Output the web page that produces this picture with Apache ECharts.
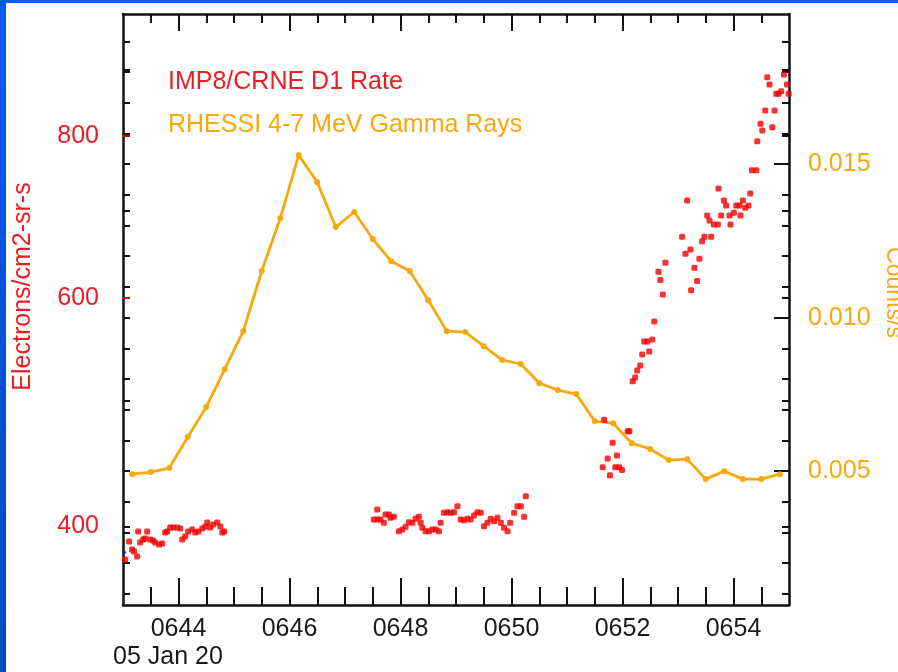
<!DOCTYPE html>
<html><head><meta charset="utf-8">
<script src="https://cdn.jsdelivr.net/npm/echarts@6/dist/echarts.min.js"></script>
<style>
html,body{margin:0;padding:0;background:#fff;}
#wrap{position:relative;width:898px;height:672px;overflow:hidden;background:#fff;}
#bandTop{position:absolute;left:0;top:0;width:898px;height:3px;background:#0a5cf0;}
#bandLeft{position:absolute;left:0;top:0;width:6px;height:672px;background:linear-gradient(#0a5cf0,#0046c8);}
#chart{position:absolute;left:0;top:0;width:898px;height:672px;}
</style></head>
<body><div id="wrap"><div id="bandTop"></div><div id="bandLeft"></div><div id="chart"></div></div>
<script>
const FONT = '"Liberation Sans", Arial, Helvetica, sans-serif';
const RED = '#ec1c24';
const DOT_RED = '#f20000';
const ORANGE = '#f7a80e';
const INK = '#111111';

// ---- axis ticks / labels ----
const xMajorTicks = [44, 46, 48, 50, 52, 54];
const xTickLabels = ['0644', '0646', '0648', '0650', '0652', '0654'];
const xMinorTicks = [43.5, 44.5, 45, 45.5, 46.5, 47, 47.5, 48.5, 49, 49.5, 50.5, 51, 51.5, 52.5, 53, 53.5, 54.5];
const dateLabel = '05 Jan 20';
const leftTickLabels = [400, 600, 800];
const leftBlackTicks = [400, 500, 700, 900];
const leftRedTicks = [600, 800];
const rightTickLabels = [0.005, 0.010, 0.015];
const rightMinorTicks = [0.001, 0.002, 0.003, 0.004, 0.006, 0.007, 0.008, 0.009, 0.011, 0.012, 0.013, 0.014, 0.016, 0.017, 0.018, 0.019];

// ---- RHESSI 4-7 MeV gamma rays (counts/s) ----
const gammaTimes = ['06:43:10','06:43:30','06:43:50','06:44:10','06:44:30','06:44:50','06:45:10','06:45:30','06:45:50',
  '06:46:10','06:46:30','06:46:50','06:47:10','06:47:30','06:47:50','06:48:10','06:48:30','06:48:50',
  '06:49:10','06:49:30','06:49:50','06:50:10','06:50:30','06:50:50','06:51:10','06:51:30','06:51:50',
  '06:52:10','06:52:30','06:52:50','06:53:10','06:53:30','06:53:50','06:54:10','06:54:30','06:54:50'];
const gammaRate = [0.00490,0.00497,0.00510,0.00611,0.00709,0.00832,0.00956,0.01152,0.01324,
  0.01529,0.01441,0.01295,0.01344,0.01256,0.01184,0.01152,0.01057,0.00956,
  0.00953,0.00907,0.00862,0.00849,0.00787,0.00764,0.00751,0.00663,0.00656,
  0.00591,0.00572,0.00536,0.00539,0.00474,0.00500,0.00474,0.00474,0.00490];

// ---- IMP8/CRNE D1 rate (electrons/cm2-sr-s); time in minutes after 06:00 ----
const imp8Minutes = [
  43.038,43.110,43.164,43.200,43.255,43.273,43.309,43.363,43.399,43.435,43.489,43.543,43.579,43.652,43.706,43.760,43.796,43.850,
  43.904,43.976,44.031,44.067,44.121,44.175,44.247,44.301,44.356,44.428,44.482,44.518,44.572,44.626,44.699,44.753,44.789,44.825,
  47.520,47.581,47.585,47.641,47.700,47.731,47.791,47.821,47.881,47.971,48.033,48.092,48.152,48.213,48.273,48.332,48.363,48.393,
  48.453,48.513,48.574,48.634,48.693,48.724,48.783,48.845,48.904,48.964,49.025,49.085,49.144,49.206,49.265,49.325,49.386,49.446,
  49.505,49.567,49.626,49.686,49.747,49.807,49.866,49.928,49.975,50.047,50.108,50.168,50.227,50.258,
  51.643,51.671,51.733,51.774,51.823,51.870,51.901,51.942,51.991,52.094,52.123,52.184,52.229,52.265,52.319,52.355,52.392,52.446,
  52.482,52.536,52.572,52.646,52.682,52.726,52.773,53.074,53.134,53.164,53.224,53.236,53.296,53.345,53.386,53.435,53.477,53.525,
  53.567,53.597,53.646,53.718,53.729,53.778,53.827,53.868,53.928,53.946,54.007,54.049,54.108,54.126,54.170,54.211,54.271,54.301,
  54.332,54.410,54.428,54.487,54.518,54.572,54.608,54.650,54.699,54.740,54.771,54.812,54.860,54.909,54.964,54.995];
const imp8Rate = [
  377.2,389.5,384.0,382.6,379.3,396.5,388.8,390.9,391.6,396.5,390.9,390.2,388.8,387.4,388.1,395.7,396.5,399.3,
  399.3,399.3,398.6,390.9,392.9,396.5,397.9,395.7,396.5,398.6,400.0,402.9,399.3,401.4,402.9,400.0,395.7,396.5,
  405.0,412.2,405.0,405.0,402.6,408.6,408.6,406.2,406.9,396.7,397.9,399.8,403.1,402.6,405.5,406.9,402.6,399.1,
  396.7,396.7,397.9,397.9,396.7,402.6,409.8,410.2,409.8,410.2,414.7,405.0,404.5,405.5,405.0,407.9,410.2,409.8,
  400.2,402.6,405.5,403.8,406.2,402.6,399.1,396.7,402.6,409.8,414.7,414.7,406.9,422.1,
  444.4,483.5,451.3,438.1,464.0,444.4,453.7,444.4,442.1,473.7,473.7,517.5,521.1,527.6,532.3,542.8,555.4,555.4,
  545.7,557.4,575.5,628.6,619.3,603.8,638.7,668.8,648.9,713.4,653.9,608.4,633.0,618.2,643.2,663.6,668.8,694.6,
  688.4,668.8,683.6,683.6,728.6,694.6,713.4,707.1,694.6,683.6,698.0,707.1,707.1,694.6,713.4,704.2,707.1,722.3,
  752.7,752.7,792.4,817.3,807.6,836.8,887.7,876.3,812.4,836.8,862.0,862.0,865.9,892.0,876.3,862.0];
const blueMinutes = [43.020];
const blueRate = [382.0];

const toMinutes = s => { const p = s.split(':').map(Number); return (p[0] - 6) * 60 + p[1] + p[2] / 60; };
const gammaData = gammaTimes.map((t, i) => [toMinutes(t), gammaRate[i]]);
const imp8Data = imp8Minutes.map((m, i) => [m, imp8Rate[i]]);
const blueData = blueMinutes.map((m, i) => [m, blueRate[i]]);

const X_MIN = 43, X_MAX = 55;
const L_MIN = 348, L_MAX = 993;
const R_MIN = 0.00064, R_MAX = 0.01989;
const FS = 25;

const hidden = { show: false };
function xAx(pos, ticks, len, showLine, labels) {
  return {
    type: 'value', position: pos, min: X_MIN, max: X_MAX,
    axisLine: { show: showLine, onZero: false, lineStyle: { color: INK, width: 2.5 } },
    axisTick: { show: true, inside: true, length: len, customValues: ticks, lineStyle: { color: INK, width: 2 } },
    axisLabel: labels ? {
      show: true, customValues: xMajorTicks, margin: 12,
      formatter: v => xTickLabels[xMajorTicks.indexOf(v)] || '',
      color: '#1a1a1a', fontSize: FS, fontFamily: FONT
    } : hidden,
    splitLine: hidden
  };
}
function logAx(pos, ticks, color, showLine, extra) {
  return Object.assign({
    type: 'log', logBase: 10, position: pos, min: L_MIN, max: L_MAX,
    axisLine: { show: showLine, onZero: false, lineStyle: { color: INK, width: 2.5 } },
    axisTick: { show: true, inside: true, length: 7, customValues: ticks, lineStyle: { color: color, width: 2 } },
    axisLabel: hidden, splitLine: hidden, minorTick: hidden
  }, extra || {});
}
function linAx(pos, ticks, len, showLine, extra) {
  return Object.assign({
    type: 'value', position: pos, min: R_MIN, max: R_MAX,
    axisLine: { show: showLine, onZero: false, lineStyle: { color: INK, width: 2.5 } },
    axisTick: { show: true, inside: true, length: len, customValues: ticks, lineStyle: { color: INK, width: 2 } },
    axisLabel: hidden, splitLine: hidden
  }, extra || {});
}

const chart = echarts.init(document.getElementById('chart'), null, { renderer: 'canvas' });
chart.setOption({
  animation: false,
  backgroundColor: 'transparent',
  grid: { left: 123, right: 109, top: 14, bottom: 67, containLabel: false, outerBoundsMode: 'none' },
  title: {
    text: dateLabel, left: 108, top: 640,
    textStyle: { fontSize: FS, fontWeight: 'normal', color: '#1a1a1a', fontFamily: FONT }
  },
  legend: {
    orient: 'vertical', left: 158, top: 65, icon: 'none', itemWidth: 0, itemHeight: 25, itemGap: 18,
    selectedMode: false,
    textStyle: { fontSize: FS, fontFamily: FONT },
    data: [
      { name: 'IMP8/CRNE D1 Rate', textStyle: { color: RED } },
      { name: 'RHESSI 4-7 MeV Gamma Rays', textStyle: { color: ORANGE } }
    ]
  },
  xAxis: [
    xAx('bottom', xMajorTicks, 27, true, true),
    xAx('bottom', xMinorTicks, 18, false, false),
    xAx('top', xMajorTicks, 17, true, false),
    xAx('top', xMinorTicks, 9, false, false)
  ],
  yAxis: [
    logAx('left', leftBlackTicks, INK, true, {
      name: 'Electrons/cm2-sr-s', nameLocation: 'middle', nameGap: 87,
      nameTextStyle: { color: RED, fontSize: FS, fontFamily: FONT, padding: [0, 0, 0, 46] },
      axisLabel: {
        show: true, customValues: leftTickLabels, margin: 24,
        color: RED, fontSize: FS, fontFamily: FONT
      }
    }),
    linAx('right', rightTickLabels, 15, true, {
      name: 'Counts/s', nameLocation: 'middle', nameGap: 91, nameRotate: -90,
      nameTextStyle: { color: ORANGE, fontSize: 23, fontFamily: FONT, padding: [0, 34, 0, 0] },
      axisLabel: {
        show: true, customValues: rightTickLabels, margin: 19,
        formatter: v => v.toFixed(3),
        color: ORANGE, fontSize: FS, fontFamily: FONT
      }
    }),
    linAx('right', rightMinorTicks, 7, false),
    linAx('left', rightMinorTicks.concat(rightTickLabels), 7, false),
    logAx('left', leftRedTicks, '#e00000', false),
    logAx('right', leftBlackTicks.concat(leftRedTicks), INK, false)
  ],
  series: [
    {
      name: 'RHESSI 4-7 MeV Gamma Rays', type: 'line', xAxisIndex: 0, yAxisIndex: 1,
      data: gammaData, color: ORANGE,
      symbol: 'circle', symbolSize: 6, showSymbol: true,
      lineStyle: { width: 2.8, color: ORANGE }, itemStyle: { color: ORANGE },
      z: 2,
      markLine: {
        silent: true, symbol: 'none', label: { show: false },
        lineStyle: { color: INK, width: 2, type: 'solid' },
        data: [{ yAxis: rightMinorTicks[0] }]
      }
    },
    {
      name: 'IMP8/CRNE D1 Rate', type: 'scatter', xAxisIndex: 0, yAxisIndex: 0,
      data: imp8Data, color: DOT_RED, symbol: 'roundRect', symbolSize: 6,
      itemStyle: { color: DOT_RED }, z: 3
    },
    {
      name: 'blue', type: 'scatter', xAxisIndex: 0, yAxisIndex: 0,
      data: blueData, symbol: 'circle', symbolSize: 4,
      itemStyle: { color: '#1020c0' }, z: 4
    }
  ]
});
</script></body></html>
